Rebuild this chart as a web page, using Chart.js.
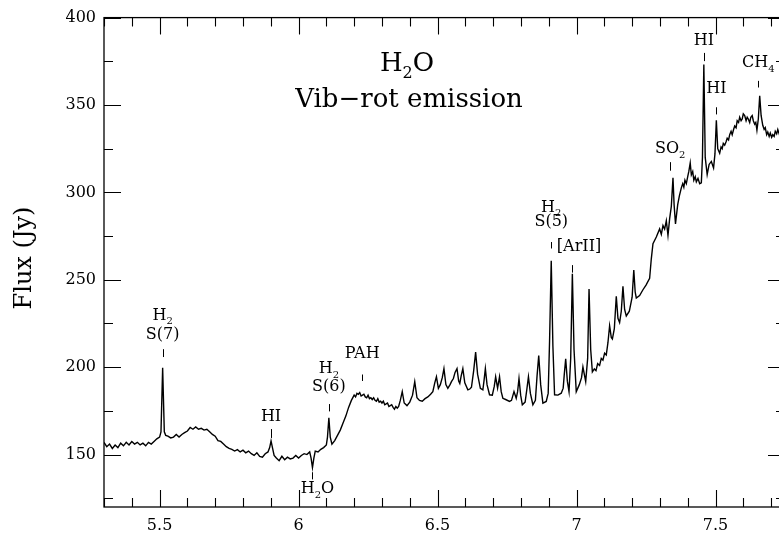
<!DOCTYPE html>
<html>
<head>
<meta charset="utf-8">
<script src="https://cdn.jsdelivr.net/npm/chart.js@4.4.1/dist/chart.umd.min.js"></script>
<style>
  html, body { margin: 0; padding: 0; background: #fff; overflow: hidden; }
  #wrap { position: absolute; left: 0; top: 0; width: 800px; height: 535px; }
</style>
</head>
<body>
<div id="wrap"><canvas id="c" width="800" height="535"></canvas></div>
<script>
// ---- data ----
const wavelengths = [
  5.300,5.310,5.320,5.330,5.340,5.350,5.360,5.370,5.380,5.390,
  5.400,5.410,5.420,5.430,5.440,5.450,5.460,5.470,5.480,5.490,
  5.500,5.505,5.511,5.517,5.522,5.530,5.540,5.550,5.560,5.570,
  5.580,5.590,5.600,5.610,5.620,5.630,5.640,5.650,5.660,5.670,
  5.680,5.690,5.700,5.710,5.720,5.730,5.740,5.750,5.760,5.770,
  5.780,5.790,5.800,5.810,5.820,5.830,5.840,5.850,5.860,5.870,
  5.880,5.890,5.896,5.901,5.906,5.912,5.920,5.930,5.940,5.950,
  5.960,5.970,5.980,5.990,6.000,6.010,6.020,6.030,6.040,6.045,
  6.050,6.055,6.060,6.070,6.080,6.090,6.100,6.104,6.109,6.114,
  6.120,6.130,6.140,6.150,6.160,6.170,6.180,6.190,
  6.200,6.205,6.210,6.215,6.220,6.225,6.230,6.235,6.240,6.245,
  6.250,6.255,6.260,6.265,6.270,6.275,6.280,6.285,6.290,6.295,
  6.300,6.305,6.310,6.315,6.320,6.325,6.330,6.335,6.340,6.345,
  6.350,6.355,6.360,
  6.366,6.373,6.380,6.390,6.400,
  6.410,6.418,6.426,6.435,6.445,6.455,6.465,6.475,6.483,6.490,
  6.496,6.503,6.510,6.517,6.523,6.530,6.537,6.545,6.550,6.557,
  6.563,6.570,6.576,6.580,6.585,6.591,6.598,6.609,6.616,6.622,
  6.630,6.637,6.644,6.654,6.663,6.667,6.672,6.678,6.687,6.697,
  6.704,6.709,6.716,6.723,6.729,6.735,6.745,6.759,6.766,6.775,
  6.783,6.788,6.793,6.799,6.805,6.815,6.821,6.827,6.834,6.843,
  6.852,6.858,6.864,6.871,6.879,6.891,6.898,6.903,6.909,6.915,
  6.921,6.933,6.945,6.952,6.956,6.961,6.967,6.973,6.979,6.985,
  6.991,6.999,7.010,7.018,7.023,7.033,7.040,7.045,7.051,
  7.057,7.064,7.070,7.076,7.083,7.089,7.095,7.101,7.107,7.113,7.119,7.125,7.129,7.136,7.143,
  7.149,7.155,7.161,7.167,7.173,7.179,7.190,7.200,7.206,7.211,
  7.215,7.227,7.239,7.250,7.263,7.269,7.275,7.287,7.299,7.305,
  7.311,7.317,7.323,7.329,7.335,7.341,7.347,7.351,7.356,7.364,
  7.370,
  7.377,7.382,7.386,7.390,7.395,7.400,7.404,7.409,7.413,7.418,7.422,7.427,7.431,7.437,7.443,7.449,
  7.453,7.458,7.463,7.470,7.477,7.485,7.493,7.498,7.503,7.508,
  7.515,7.520,7.524,7.528,7.533,7.538,7.542,7.547,7.551,7.556,
  7.560,7.565,7.569,7.574,7.578,7.583,7.587,7.592,7.596,7.600,
  7.605,7.610,7.614,7.618,7.623,7.627,7.632,7.636,7.641,7.645,
  7.649,7.654,7.659,
  7.664,7.670,7.675,7.679,7.684,7.688,7.693,7.697,7.702,7.706,
  7.711,7.715,7.720,7.724,7.730,7.735,7.742,7.750
];
const flux = [
  156.9,154.5,156.0,153.5,155.5,154.0,156.5,155.0,157.0,155.5,
  157.5,156.0,157.0,155.5,156.5,155.0,157.0,156.0,157.5,159.0,
  160.0,163.0,199.6,163.0,161.0,160.5,159.5,160.0,161.5,160.0,
  161.5,162.5,163.5,165.5,164.5,165.8,164.5,165.0,164.0,164.5,
  163.0,161.5,160.5,158.0,157.5,156.0,154.5,153.5,153.0,152.0,
  152.8,151.5,152.5,151.0,152.0,150.5,149.5,151.0,149.0,148.5,
  150.5,151.5,154.0,157.8,154.0,149.5,148.0,146.5,149.0,147.0,
  148.5,147.5,148.0,149.5,148.0,149.5,150.5,150.0,151.5,148.0,
  142.5,148.0,152.0,151.5,153.0,154.0,155.5,160.0,171.0,160.0,
  156.0,158.0,161.0,164.0,168.0,172.0,177.0,181.0,
  184.0,183.0,185.0,184.5,185.5,183.5,184.0,184.5,183.0,182.5,
  184.0,182.0,182.5,181.5,182.5,181.0,180.5,182.0,180.0,180.5,
  179.5,180.5,178.5,179.0,179.5,177.5,178.0,178.5,177.0,176.0,
  177.5,176.5,177.5,
  181.0,186.0,179.5,178.0,180.0,
  184.0,191.7,182.5,181.0,180.5,182.0,183.0,184.5,186.0,191.0,
  194.5,187.9,190.0,194.0,199.2,190.0,187.9,190.0,191.7,193.5,
  197.0,199.2,192.0,190.7,195.0,199.2,191.0,187.0,187.5,188.5,
  198.0,208.6,196.0,187.9,187.0,192.0,199.2,190.0,184.2,184.0,
  189.0,194.5,188.0,194.5,186.0,182.2,181.5,180.4,181.0,186.0,
  182.2,186.0,193.5,184.0,178.5,180.0,187.0,194.5,185.0,178.5,
  181.0,195.0,206.7,190.0,179.4,180.4,185.0,215.0,260.9,212.0,
  184.2,184.0,185.1,188.0,196.0,204.8,192.0,186.0,205.0,253.4,
  210.0,186.0,190.0,194.0,200.1,191.7,205.0,244.7,210.0,
  197.3,199.0,198.0,202.0,201.0,205.0,204.0,208.0,207.0,214.0,223.7,217.0,216.1,222.0,240.6,
  228.0,225.5,232.0,246.2,233.0,229.3,232.0,240.0,255.6,243.0,
  239.6,241.0,244.3,247.0,250.9,262.0,270.7,274.5,279.1,276.0,
  281.0,279.0,283.8,275.4,285.0,292.0,308.3,293.0,282.0,293.0,
  298.0,
  302.6,305.0,303.0,307.0,305.0,309.0,312.0,316.8,310.0,312.0,307.0,309.0,306.0,308.0,305.0,305.5,
  320.0,373.2,320.0,310.2,316.0,317.7,314.0,322.0,341.2,325.0,
  322.4,326.0,325.0,328.0,327.0,329.0,331.0,330.0,333.0,335.0,
  333.0,336.0,338.0,337.0,341.0,340.0,343.0,341.0,342.0,345.0,
  344.0,341.0,343.0,342.0,340.0,343.0,344.0,341.0,339.0,340.0,
  335.6,342.0,355.3,
  344.0,338.4,336.0,337.0,333.0,334.5,332.0,334.0,331.5,333.0,
  332.0,335.0,333.5,336.0,333.0,335.0,333.0,335.0
];
const xTickValues = [5.5, 6, 6.5, 7, 7.5];
const xTickLabels = ['5.5', '6', '6.5', '7', '7.5'];
const yTickValues = [150, 200, 250, 300, 350, 400];
const yTickLabels = ['150', '200', '250', '300', '350', '400'];
const yAxisTitle = 'Flux (Jy)';
// "_x" marks a subscript character
const titleLines = ['H_2O', 'Vib−rot emission'];

// line identifications: wavelength of marker, marker extent (Jy), text lines at (Jy)
const lineIds = [
  { lam: 5.511, tick: [205.8, 210.3], lines: [['H_2', 229.5], ['S(7)', 218.6]] },
  { lam: 5.901, tick: [159.5, 164.6], lines: [['HI', 171.4]] },
  { lam: 6.050, tick: [135.8, 139.9], textLam: 6.068, lines: [['H_2O', 130.2]] },
  { lam: 6.109, tick: [174.7, 178.9], lines: [['H_2', 199.0], ['S(6)', 188.8]] },
  { lam: 6.229, tick: [192.1, 195.8], lines: [['PAH', 207.6]] },
  { lam: 6.909, tick: [267.9, 271.6], lines: [['H_2', 291.4], ['S(5)', 282.9]] },
  { lam: 6.985, tick: [254.1, 258.4], textLam: 7.009, lines: [['[ArII]', 268.8]] },
  { lam: 7.337, tick: [312.4, 317.3], lines: [['SO_2', 324.7]] },
  { lam: 7.458, tick: [375.1, 379.8], lines: [['HI', 386.9]] },
  { lam: 7.503, tick: [344.6, 348.7], lines: [['HI', 359.1]] },
  { lam: 7.654, tick: [360.0, 363.8], lines: [['CH_4', 374.1]] }
];

const SERIF = '"DejaVu Serif", "Liberation Serif", serif';

// draws text centred at (cx, cy); "_c" renders c as a smaller, lowered subscript
function drawRich(ctx, str, cx, cy, size) {
  const segs = [];
  for (let i = 0; i < str.length; i++) {
    if (str[i] === '_' && i + 1 < str.length) { segs.push({ t: str[i + 1], sub: true }); i++; }
    else if (segs.length && !segs[segs.length - 1].sub) segs[segs.length - 1].t += str[i];
    else segs.push({ t: str[i], sub: false });
  }
  const subSize = Math.round(size * 0.62);
  let total = 0;
  for (const s of segs) {
    ctx.font = (s.sub ? subSize : size) + 'px ' + SERIF;
    s.w = ctx.measureText(s.t).width;
    total += s.w;
  }
  let x = cx - total / 2;
  ctx.textAlign = 'left';
  ctx.textBaseline = 'middle';
  for (const s of segs) {
    ctx.font = (s.sub ? subSize : size) + 'px ' + SERIF;
    ctx.fillText(s.t, x, s.sub ? cy + size * 0.38 : cy);
    x += s.w;
  }
}

const framePlugin = {
  id: 'frame',
  afterDatasetsDraw(chart) {
    const { ctx, chartArea: a, scales: { x, y } } = chart;
    ctx.save();
    ctx.strokeStyle = '#000';
    ctx.lineWidth = 1.3;
    ctx.strokeRect(a.left, a.top, a.right - a.left, a.bottom - a.top);
    ctx.lineWidth = 1.1;
    // x ticks (minor every 0.1, major every 0.5), bottom and top, pointing inward
    ctx.beginPath();
    for (let i = 53; i <= 77; i++) {
      const v = i / 10;
      const px = Math.round(x.getPixelForValue(v)) + 0.5;
      const len = (i % 5 === 0) ? 17 : 9;
      ctx.moveTo(px, a.bottom); ctx.lineTo(px, a.bottom - len);
      ctx.moveTo(px, a.top); ctx.lineTo(px, a.top + len);
    }
    // y ticks (minor every 25, major every 50), left and right
    for (let v = 125; v <= 400; v += 25) {
      const py = Math.round(y.getPixelForValue(v)) + 0.5;
      const len = (v % 50 === 0) ? 17 : 9;
      ctx.moveTo(a.left, py); ctx.lineTo(a.left + len, py);
      ctx.moveTo(a.right, py); ctx.lineTo(a.right - len, py);
    }
    ctx.stroke();

    // line identifications
    ctx.fillStyle = '#000';
    ctx.lineWidth = 1;
    for (const id of lineIds) {
      const mx = Math.round(x.getPixelForValue(id.lam)) + 0.5;
      ctx.beginPath();
      ctx.moveTo(mx, y.getPixelForValue(id.tick[0]));
      ctx.lineTo(mx, y.getPixelForValue(id.tick[1]));
      ctx.stroke();
      const tx = x.getPixelForValue(id.textLam !== undefined ? id.textLam : id.lam);
      for (const [txt, fy] of id.lines) {
        drawRich(ctx, txt, tx, y.getPixelForValue(fy), 16);
      }
    }

    // title
    drawRich(ctx, titleLines[0], 407, 64, 26);
    drawRich(ctx, titleLines[1], 409, 100, 26);

    // y axis title
    ctx.save();
    ctx.translate(25, 258);
    ctx.rotate(-Math.PI / 2);
    ctx.font = '24px ' + SERIF;
    ctx.textAlign = 'center';
    ctx.textBaseline = 'middle';
    ctx.fillText(yAxisTitle, 0, 0);
    ctx.restore();
    ctx.restore();
  }
};

new Chart(document.getElementById('c'), {
  type: 'line',
  data: {
    datasets: [{
      data: wavelengths.map((w, i) => ({ x: w, y: flux[i] })),
      borderColor: '#000',
      borderWidth: 1.4,
      pointRadius: 0,
      tension: 0,
      fill: false
    }]
  },
  options: {
    responsive: false,
    animation: false,
    devicePixelRatio: 1,
    layout: { padding: { left: 0, top: 11, right: 15, bottom: 0 } },
    plugins: { legend: { display: false }, tooltip: { enabled: false }, title: { display: false } },
    scales: {
      x: {
        type: 'linear',
        min: 5.3,
        max: 7.75,
        grid: { display: false, drawTicks: false },
        border: { display: false },
        afterBuildTicks: s => { s.ticks = xTickValues.map(v => ({ value: v })); },
        afterFit: s => { s.height = 28; },
        ticks: {
          color: '#000',
          padding: 9,
          maxRotation: 0,
          font: { family: SERIF, size: 16 },
          callback: (v) => { const k = xTickValues.indexOf(v); return k >= 0 ? xTickLabels[k] : ''; }
        }
      },
      y: {
        type: 'linear',
        min: 120,
        max: 400,
        grid: { display: false, drawTicks: false },
        border: { display: false },
        afterBuildTicks: s => { s.ticks = yTickValues.map(v => ({ value: v })); },
        afterFit: s => { s.width = 104; },
        ticks: {
          color: '#000',
          padding: 8,
          font: { family: SERIF, size: 16 },
          callback: (v) => { const k = yTickValues.indexOf(v); return k >= 0 ? yTickLabels[k] : ''; }
        }
      }
    }
  },
  plugins: [framePlugin]
});
</script>
</body>
</html>
